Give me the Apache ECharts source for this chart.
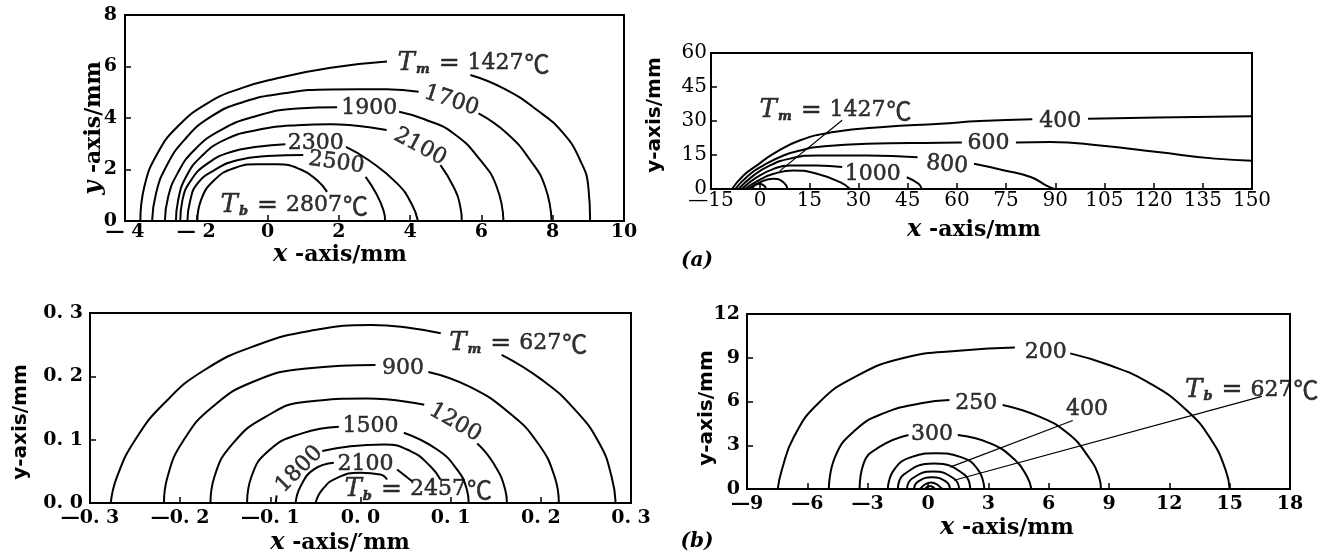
<!DOCTYPE html>
<html><head><meta charset="utf-8">
<script src="https://cdn.jsdelivr.net/npm/echarts@6/dist/echarts.min.js"></script>
<style>html,body{margin:0;padding:0;background:#fff}#c{width:1341px;height:556px}</style>
</head><body><div id="c"></div>
<script>
// ---------------- tick values & tick labels ----------------
const A_L_XTICKS = [-4,-2,0,2,4,6,8,10];
const A_L_XLABELS = ['— 4','— 2','0','2','4','6','8','10'];
const A_L_YTICKS = [0,2,4,6,8];
const A_L_YLABELS = ['0','2','4','6','8'];
const A_R_XTICKS = [-15,0,15,30,45,60,75,90,105,120,135,150];
const A_R_XLABELS = ['—15','0','15','30','45','60','75','90','105','120','135','150'];
const A_R_YTICKS = [0,15,30,45,60];
const A_R_YLABELS = ['0','15','30','45','60'];
const B_L_XTICKS = [-0.3,-0.2,-0.1,0,0.1,0.2,0.3];
const B_L_XLABELS = ['—0. 3','—0. 2','—0. 1','0. 0','0. 1','0. 2','0. 3'];
const B_L_YTICKS = [0,0.1,0.2,0.3];
const B_L_YLABELS = ['0. 0','0. 1','0. 2','0. 3'];
const B_R_XTICKS = [-9,-6,-3,0,3,6,9,12,15,18];
const B_R_XLABELS = ['—9','—6','—3','0','3','6','9','12','15','18'];
const B_R_YTICKS = [0,3,6,9,12];
const B_R_YLABELS = ['0','3','6','9','12'];

// ---------------- (a) left : isotherms [x mm, y mm], segments split at labels ----------------
const A_L_T1427 = [
  [[-3.57,0],[-3.46,1.32],[-3.09,2.62],[-2.53,3.66],[-1.69,4.57],[-0.75,5.15],[0.27,5.54],[1.77,5.95],[3.35,6.19]],
  [[5.69,5.67],[6.62,5.15],[7.56,4.31],[8.3,3.4],[8.77,2.36],[9.0,1.32],[9.05,0]]
];
const A_L_T1700 = [
  [[-3.24,0],[-3.13,1.07],[-2.85,2.1],[-2.34,3.14],[-1.59,4.05],[-0.66,4.63],[0.46,4.96],[1.77,5.11],[3.34,5.12],[4.24,5.02]],
  [[5.92,4.18],[6.72,3.4],[7.37,2.36],[7.79,1.32],[7.97,0]]
];
const A_L_T1900 = [
  [[-2.88,0],[-2.79,0.93],[-2.53,1.84],[-2.06,2.75],[-1.31,3.53],[-0.38,4.05],[0.83,4.37],[1.95,4.42]],
  [[3.69,4.24],[4.4,3.95],[5.22,3.4],[5.97,2.36],[6.43,1.32],[6.62,0]]
];
const A_L_T2100 = [
  [[-2.57,0],[-2.51,0.8],[-2.29,1.71],[-1.87,2.49],[-1.22,3.14],[-0.29,3.53],[0.83,3.72],[1.77,3.76],[3.34,3.53]],
  [[4.85,2.17],[5.22,1.32],[5.41,0.54],[5.45,0]]
];
const A_L_T2300 = [
  [[-2.45,0],[-2.39,0.8],[-2.15,1.58],[-1.69,2.23],[-1.03,2.68],[-0.29,2.88],[0.5,2.98]],
  [[2.2,2.88],[2.84,2.36],[3.64,1.45],[4.04,0.67],[4.22,0]]
];
const A_L_T2500 = [
  [[-2.25,0],[-2.17,0.8],[-1.97,1.45],[-1.5,1.97],[-0.85,2.36],[0,2.52],[1.0,2.56]],
  [[2.75,1.71],[3.05,1.06],[3.25,0.42],[3.3,0]]
];
const A_L_T2807 = [
  [[-1.97,0],[-1.87,0.8],[-1.5,1.58],[-0.94,2.05],[-0.29,2.2],[0.27,2.2],[0.93,2.0],[1.39,1.58],[1.67,1.13]]
];
const A_L_LABELS = [ // [x, y, text, rotation]
  [5.78,6.12,'{t|T}{s|m}{e|=}1427{c|℃}',0],
  [5.16,4.67,'1700',-18],
  [2.85,4.37,'1900',0],
  [4.28,2.88,'2100',-28],
  [1.35,3.03,'2300',0],
  [1.93,2.26,'2500',-8],
  [0.75,0.61,'{t|T}{s|b}{e|=}2807{c|℃}',0]
];

// ---------------- (a) right ----------------
const A_R_T400 = [
  [[-8.6,0],[-5.1,6],[-1,10.4],[4.1,15.6],[12.2,21.5],[22.4,25.1],[37.6,27.4],[54.9,28.8],[67,30],[83,30.8]],
  [[100,31],[121,31.5],[150,32.1]]
];
const A_R_T600 = [
  [[-7.6,0],[-3.6,6],[1,10.4],[7.1,14.8],[12.2,17],[17.3,18.5],[32.5,20],[54.9,20.4],[61.5,20.5]],
  [[78,20.5],[88.5,20.7],[103.7,19.2],[121.2,16.3],[138.7,13.4],[150,12.5]]
];
const A_R_T800 = [
  [[-6.6,0],[-2,6],[3,10.4],[9.1,13.4],[17.3,14.8],[32.5,14.8],[48,14]],
  [[65.2,11.1],[74.5,8.2],[82.7,5.2],[87.3,1.5],[89.7,0]]
];
const A_R_T1000 = [
  [[-5.6,0],[-1,5.2],[4.1,8.9],[9.1,10.4],[17.3,10.4],[25,9.7]],
  [[44.7,5.2],[48.3,2.3],[49.3,0]]
];
const A_R_INNER1 = [[[-4.6,0],[-0.5,3.8],[4.1,6.7],[10.2,8.2],[17.3,6.7],[24.4,3],[27.4,0]]];
const A_R_INNER2 = [[[-3.6,0],[0,3],[4.1,4.5],[7.1,3],[8.3,0]]];
const A_R_INNER3 = [[[-2.3,0],[-1.8,1.5],[-0.3,2.3],[1.2,1.5],[1.8,0]]];
const A_R_LEADER = [[25,30.3],[6,8]];
const A_R_LABELS = [
  [23,34.7,'{t|T}{s|m}{e|=}1427{c|℃}',0],
  [91.5,30,'400',0],
  [69.6,20.2,'600',0],
  [57,10.6,'800',-5],
  [34.3,6.7,'1000',0]
];

// ---------------- (b) left ----------------
const B_L_T627 = [
  [[-0.277,0],[-0.27,0.0415],[-0.25,0.0995],[-0.218,0.157],[-0.173,0.21],[-0.1145,0.2495],[-0.051,0.273],[0.012,0.281],[0.057,0.276],[0.089,0.268]],
  [[0.1565,0.234],[0.2017,0.194],[0.238,0.147],[0.265,0.094],[0.2785,0.0415],[0.283,0]]
];
const B_L_T900 = [
  [[-0.218,0],[-0.214,0.0415],[-0.196,0.0995],[-0.164,0.152],[-0.119,0.1915],[-0.06,0.2125],[0.0166,0.218]],
  [[0.0753,0.207],[0.1204,0.184],[0.1656,0.1416],[0.197,0.094],[0.2153,0.0415],[0.22,0]]
];
const B_L_T1200 = [
  [[-0.1664,0],[-0.162,0.0415],[-0.1415,0.094],[-0.1054,0.136],[-0.06,0.16],[0.0075,0.165],[0.0707,0.155]],
  [[0.1295,0.094],[0.1475,0.0627],[0.1605,0.021],[0.1624,0]]
];
const B_L_T1500 = [
  [[-0.1258,0],[-0.121,0.0415],[-0.1009,0.0837],[-0.0648,0.11],[-0.024,0.1205]],
  [[0.048,0.111],[0.085,0.0845],[0.107,0.053],[0.118,0.021],[0.12,0]]
];
const B_L_T1800 = [
  [[-0.094,0],[-0.093,0.012]],
  [[-0.0424,0.082],[-0.011,0.0897],[0.0258,0.0924],[0.0554,0.082],[0.0775,0.058],[0.0886,0.037]]
];
const B_L_T2100 = [
  [[-0.072,0],[-0.0664,0.0265],[-0.0517,0.053],[-0.0296,0.0635]],
  [[0.0406,0.053],[0.0572,0.0344]]
];
const B_L_T2457 = [
  [[-0.0498,0],[-0.0424,0.021],[-0.0258,0.0398],[0,0.0477],[0.022,0.045],[0.0295,0.037]]
];
const B_L_LABELS = [
  [0.175,0.252,'{t|T}{s|m}{e|=}627{c|℃}',0],
  [0.047,0.213,'900',0],
  [0.105,0.127,'1200',-30],
  [0.011,0.121,'1500',0],
  [-0.068,0.053,'1800',45],
  [0.0055,0.061,'2100',0],
  [0.064,0.021,'{t|T}{s|b}{e|=}2457{c|℃}',0]
];

// ---------------- (b) right ----------------
const B_R_T200 = [
  [[-7.47,0],[-7.27,1.3],[-6.66,3.6],[-5.44,5.9],[-3.61,7.7],[-1.17,9.0],[1.68,9.5],[4.32,9.7]],
  [[7.07,9.3],[9.0,8.5],[11.03,7.25],[12.86,5.4],[14.09,3.36],[14.8,1.3],[15.0,0]]
];
const B_R_T250 = [
  [[-4.93,0],[-4.62,2.2],[-3.61,4.05],[-2.19,5.2],[-0.35,5.88],[1.07,6.1]],
  [[3.71,5.76],[5.54,4.96],[6.97,3.8],[7.98,2.2],[8.5,0.84],[8.6,0]]
];
const B_R_T300 = [
  [[-3.4,0],[-3.2,1.76],[-2.39,2.9],[-0.97,3.7]],
  [[1.48,3.7],[3.1,3.13],[4.32,2.0],[4.93,0.84],[5.14,0]]
];
const B_R_T400 = [[[-2.0,0],[-1.7,1.3],[-0.8,2.2],[0.4,2.45],[1.6,2.2],[2.5,1.3],[2.8,0]]];
const B_R_INNER1 = [[[-1.5,0],[-1.2,1.0],[0.3,1.75],[1.8,1.0],[2.1,0]]];
const B_R_INNER2 = [[[-1.05,0],[-0.8,0.7],[0.25,1.2],[1.3,0.7],[1.55,0]]];
const B_R_INNER3 = [[[-0.7,0],[-0.5,0.5],[0.2,0.8],[0.9,0.5],[1.1,0]]];
const B_R_INNER4 = [[[-0.4,0],[0.15,0.45],[0.7,0]]];
const B_R_INNER5 = [[[-0.15,0],[0.1,0.2],[0.35,0]]];
const B_R_LEADER400 = [[7.2,4.7],[1.1,1.5]];
const B_R_LEADERTB = [[16.6,6.35],[1.3,0.6]];
const B_R_LABELS = [
  [5.85,9.4,'200',0],
  [2.4,5.9,'250',0],
  [0.2,3.75,'300',0],
  [7.9,5.45,'400',0],
  [16.1,6.8,'{t|T}{s|b}{e|=}627{c|℃}',0]
];

// ---------------- build ----------------
const SERIF = '"DejaVu Serif", "Liberation Serif", serif';
const SANS = '"DejaVu Sans", "Liberation Sans", sans-serif';
const TB = {textBorderColor: '#000', textBorderWidth: 0.5};
const RICH = {
  t: Object.assign({fontFamily: SERIF, fontStyle: 'italic', fontSize: 26, color: '#000'}, TB),
  s: Object.assign({fontFamily: SERIF, fontStyle: 'italic', fontWeight: 'bold', fontSize: 13, padding: [13, 0, 0, 1], color: '#000'}, TB),
  e: Object.assign({fontFamily: SERIF, fontSize: 25, padding: [0, 8, 0, 9], color: '#000'}, TB),
  c: Object.assign({fontFamily: '"Noto Sans CJK SC", sans-serif', fontSize: 25, padding: [0, 0, 0, 1], color: '#000'}, TB)
};
function lab(ticks, labels, v) {
  let best = 0;
  for (let i = 1; i < ticks.length; i++) if (Math.abs(ticks[i] - v) < Math.abs(ticks[best] - v)) best = i;
  return labels[best];
}
function axis(gi, ticks, labels, margin, fs, fw) {
  const step = Math.round((ticks[1] - ticks[0]) * 1e6) / 1e6;
  return {
    gridIndex: gi, type: 'value', min: ticks[0], max: ticks[ticks.length - 1], interval: step,
    axisLine: {show: true, onZero: false, lineStyle: {color: '#000', width: 2}},
    axisTick: {show: true, inside: true, length: 6, lineStyle: {color: '#000', width: 1.5}},
    splitLine: {show: false},
    axisLabel: {show: true, showMinLabel: true, showMaxLabel: true, margin: margin, color: '#000',
      fontFamily: SERIF, fontSize: fs || 19, fontWeight: fw || 'bold', formatter: v => lab(ticks, labels, v)}
  };
}
const series = [];
function curves(gi, list, width) {
  list.forEach(segs => segs.forEach(seg => series.push({
    type: 'line', xAxisIndex: gi, yAxisIndex: gi, data: seg, smooth: 0.5, symbol: 'none',
    lineStyle: {color: '#000', width: width || 2}, silent: true, animation: false, z: 3
  })));
}
function leader(gi, pts) {
  series.push({type: 'line', xAxisIndex: gi, yAxisIndex: gi, data: pts, symbol: 'none',
    lineStyle: {color: '#000', width: 1.2}, silent: true, animation: false, z: 3});
}
function labels(gi, list) {
  series.push({
    type: 'scatter', xAxisIndex: gi, yAxisIndex: gi, symbol: 'circle', symbolSize: 1, silent: true,
    animation: false, itemStyle: {color: 'rgba(0,0,0,0)'}, z: 5, clip: false,
    label: Object.assign({show: true, position: 'inside', color: '#000', fontFamily: SERIF, fontSize: 22, rich: RICH}, TB),
    data: list.map(l => ({value: [l[0], l[1]], label: {formatter: l[2], rotate: l[3]}}))
  });
}
curves(0, [A_L_T1427, A_L_T1700, A_L_T1900, A_L_T2100, A_L_T2300, A_L_T2500, A_L_T2807]);
labels(0, A_L_LABELS);
curves(1, [A_R_T400, A_R_T600, A_R_T800, A_R_T1000, A_R_INNER1, A_R_INNER2, A_R_INNER3]);
leader(1, A_R_LEADER);
labels(1, A_R_LABELS);
curves(2, [B_L_T627, B_L_T900, B_L_T1200, B_L_T1500, B_L_T1800, B_L_T2100, B_L_T2457]);
labels(2, B_L_LABELS);
curves(3, [B_R_T200, B_R_T250, B_R_T300, B_R_T400, B_R_INNER1, B_R_INNER2, B_R_INNER3, B_R_INNER4, B_R_INNER5]);
leader(3, B_R_LEADER400);
leader(3, B_R_LEADERTB);
labels(3, B_R_LABELS);

const gridBase = {show: true, borderColor: '#000', borderWidth: 2, containLabel: false, outerBoundsMode: 'none'};
const NAME_RICH = {i: {fontFamily: SERIF, fontStyle: 'italic', fontSize: 24, fontWeight: 'bold', color: '#000'}};
function nameText(x, y, str, rot) {
  return {type: 'text', x: x, y: y, rotation: rot || 0, silent: true,
    style: {text: str, rich: NAME_RICH, fontFamily: SERIF, fontSize: 22, fontWeight: 'bold', fill: '#000',
      align: 'center', verticalAlign: 'middle'}};
}
function sansName(x, y, str) {
  return {type: 'text', x: x, y: y, rotation: Math.PI / 2, silent: true,
    style: {text: str, fontFamily: SANS, fontSize: 20, fontWeight: 'bold', fill: '#000', align: 'center', verticalAlign: 'middle'}};
}
const option = {
  backgroundColor: '#fff',
  animation: false,
  grid: [
    Object.assign({left: 125, top: 15, width: 499, height: 206}, gridBase),
    Object.assign({left: 711, top: 53, width: 541, height: 136}, gridBase),
    Object.assign({left: 90, top: 313, width: 541, height: 190}, gridBase),
    Object.assign({left: 747, top: 314, width: 543, height: 175}, gridBase)
  ],
  xAxis: [
    axis(0, A_L_XTICKS, A_L_XLABELS, 2),
    axis(1, A_R_XTICKS, A_R_XLABELS, 2, 20, 'normal'),
    axis(2, B_L_XTICKS, B_L_XLABELS, 6),
    axis(3, B_R_XTICKS, B_R_XLABELS, 6)
  ],
  yAxis: [
    axis(0, A_L_YTICKS, A_L_YLABELS, 8),
    axis(1, A_R_YTICKS, A_R_YLABELS, 4, 20, 'normal'),
    axis(2, B_L_YTICKS, B_L_YLABELS, 7),
    axis(3, B_R_YTICKS, B_R_YLABELS, 7)
  ],
  series: series,
  graphic: [
    nameText(340, 255, '{i|x} -axis/mm'),
    nameText(94, 128, '{i|y} -axis/mm', Math.PI / 2),
    nameText(974, 230, '{i|x} -axis/mm'),
    sansName(655, 115, 'y-axis/mm'),
    nameText(340, 543, '{i|x} -axis/′mm'),
    sansName(21, 422, 'y-axis/mm'),
    nameText(1007, 528, '{i|x} -axis/mm'),
    sansName(707, 408, 'y-axis/mm'),
    {type: 'text', x: 697, y: 261, silent: true, style: {text: '(a)', fontFamily: SERIF, fontStyle: 'italic', fontWeight: 'bold', fontSize: 20, fill: '#000', align: 'center', verticalAlign: 'middle'}},
    {type: 'text', x: 697, y: 542, silent: true, style: {text: '(b)', fontFamily: SERIF, fontStyle: 'italic', fontWeight: 'bold', fontSize: 20, fill: '#000', align: 'center', verticalAlign: 'middle'}}
  ]
};
const chart = echarts.init(document.getElementById('c'), null, {renderer: 'canvas'});
chart.setOption(option);
</script>
</body></html>
